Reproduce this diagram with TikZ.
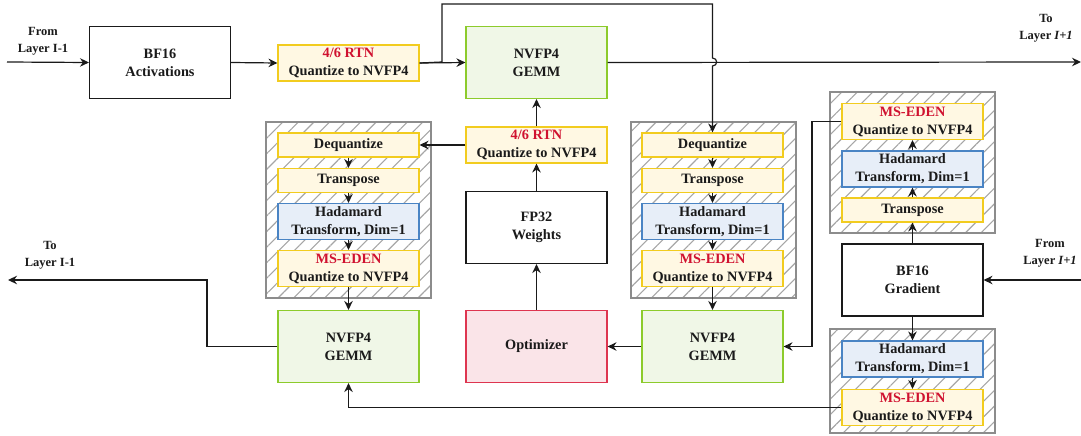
\documentclass[tikz,border=0pt]{standalone}
\usepackage{fontspec}
\setmainfont{Liberation Serif}
\usetikzlibrary{arrows.meta,patterns.meta}

\definecolor{qfill}{HTML}{FFF8E3}
\definecolor{qdraw}{HTML}{F2CC1F}
\definecolor{hfill}{HTML}{E7EEF8}
\definecolor{hdraw}{HTML}{4A84C4}
\definecolor{gfill}{HTML}{F0F7E7}
\definecolor{gdraw}{HTML}{8DCB2C}
\definecolor{ofill}{HTML}{FAE4E8}
\definecolor{odraw}{HTML}{DE3550}
\definecolor{redtxt}{HTML}{D01230}
\definecolor{hatchgray}{HTML}{A6A6A6}
\definecolor{framegray}{HTML}{8C8C8C}
\definecolor{ink}{HTML}{1A1A1A}

\tikzset{
  box/.style={draw=ink, line width=1.1pt, minimum width=141pt, inner sep=0pt,
    align=center, text=ink, font=\fontsize{14.3}{18}\selectfont\bfseries},
  big/.style={box, minimum height=72pt, fill=white},
  gemm/.style={big, fill=gfill, draw=gdraw},
  optim/.style={big, fill=ofill, draw=odraw},
  quant/.style={box, fill=qfill, draw=qdraw, minimum height=36pt},
  slim/.style={box, fill=qfill, draw=qdraw, minimum height=24pt},
  hada/.style={box, fill=hfill, draw=hdraw, minimum height=36pt},
  group/.style={draw=framegray, line width=1.2pt, minimum width=165pt, inner sep=0pt,
    pattern={Lines[angle=45,distance=11pt,line width=1.1pt]}, pattern color=hatchgray},
  lbl/.style={align=center, text=ink, font=\fontsize{12.5}{17}\selectfont\bfseries},
  conn/.style={line width=1.2pt, draw=ink},
  arr/.style={conn, -{Stealth[length=9pt,width=8.5pt,inset=3pt]}},
}
\newcommand{\redword}[1]{{\color{redtxt}#1}}

\begin{document}
\begin{tikzpicture}[x=1pt,y=-1pt]
\useasboundingbox (0,0) rectangle (1081,436);

% hatched group frames
\node[group, minimum height=176pt] (L)  at (348.5,210) {};
\node[group, minimum height=176pt] (M)  at (713.5,210) {};
\node[group, minimum height=141pt] (R1) at (912.5,162.5) {};
\node[group, minimum height=104pt] (R2) at (912.5,381) {};

% forward pass
\node[big]   (act) at (160,62.5)   {BF16\\Activations};
\node[quant] (qa)  at (348.5,63)   {\redword{4/6 RTN}\\Quantize to NVFP4};
\node[gemm]  (gf)  at (536.5,62.5) {NVFP4\\GEMM};
\node[quant] (qw)  at (536.5,145)  {\redword{4/6 RTN}\\Quantize to NVFP4};
\node[big]   (w)   at (536.5,227.5){FP32\\Weights};
\node[optim] (opt) at (536.5,346.5){Optimizer};

% left column: weights for the input gradient
\node[slim]  (dqL) at (348.5,145)   {Dequantize};
\node[slim]  (tpL) at (348.5,180.5) {Transpose};
\node[hada]  (hdL) at (348.5,221.5) {Hadamard\\Transform, Dim=1};
\node[quant] (msL) at (348.5,268.5) {\redword{MS-EDEN}\\Quantize to NVFP4};
\node[gemm]  (gL)  at (348.5,346.5) {NVFP4\\GEMM};

% middle column: activations for the weight gradient
\node[slim]  (dqM) at (712.5,145)   {Dequantize};
\node[slim]  (tpM) at (712.5,180.5) {Transpose};
\node[hada]  (hdM) at (712.5,221.5) {Hadamard\\Transform, Dim=1};
\node[quant] (msM) at (712.5,268.5) {\redword{MS-EDEN}\\Quantize to NVFP4};
\node[gemm]  (gM)  at (712.5,346.5) {NVFP4\\GEMM};

% right column: gradient paths
\node[quant] (msR)  at (912.5,121.5) {\redword{MS-EDEN}\\Quantize to NVFP4};
\node[hada]  (hdR)  at (912.5,169)   {Hadamard\\Transform, Dim=1};
\node[slim]  (tpR)  at (912.5,210)   {Transpose};
\node[big]   (grad) at (912.5,280)   {BF16\\Gradient};
\node[hada]  (hdR2) at (912.5,359)   {Hadamard\\Transform, Dim=1};
\node[quant] (msR2) at (912.5,407.5) {\redword{MS-EDEN}\\Quantize to NVFP4};

% outer labels
\node[lbl] (inA)  at (43,41)    {From\\Layer I-1};
\node[lbl] (outA) at (1046,28)  {To\\Layer \textit{I+1}};
\node[lbl] (outG) at (50,255)   {To\\Layer I-1};
\node[lbl] (inG)  at (1050,253) {From\\Layer \textit{I+1}};

\coordinate (srcA) at (7,62);
\coordinate (dstA) at (1081,62);
\coordinate (dstG) at (8,280);
\coordinate (srcG) at (1081,280);
\coordinate (split) at (442,62);

% forward connectors
\draw[arr] (srcA) -- (act.west);
\draw[arr] (act.east) -- (qa.west);
\draw[arr] (qa.east) -- (gf.west);
\draw[arr] (gf.east) -- (dstA);
\draw[arr] (qa.east) -- (split) -- (442,4) -- (712.5,4) -- (712.5,58)
  .. controls (718,58) and (718,66) .. (712.5,66) -- (dqM.north);
\draw[arr] (qw.north) -- (gf.south);
\draw[arr] (w.north) -- (qw.south);
\draw[arr] (opt.north) -- (w.south);
\draw[arr] (qw.west) -- (dqL.east);

% chains inside the frames
\draw[arr] (dqL.south) -- (tpL.north);
\draw[arr] (tpL.south) -- (hdL.north);
\draw[arr] (hdL.south) -- (msL.north);
\draw[arr] (msL.south) -- (gL.north);
\draw[arr] (dqM.south) -- (tpM.north);
\draw[arr] (tpM.south) -- (hdM.north);
\draw[arr] (hdM.south) -- (msM.north);
\draw[arr] (msM.south) -- (gM.north);
\draw[arr] (gM.west) -- (opt.east);
\draw[arr] (gL.west) -- (207,346.5) -- (207,280) -- (dstG);

% gradient side
\draw[arr] (srcG) -- (grad.east);
\draw[arr] (grad.north) -- (tpR.south);
\draw[arr] (tpR.north) -- (hdR.south);
\draw[arr] (hdR.north) -- (msR.south);
\draw[arr] (msR.west) -- (812,121.5) -- (812,346.5) -- (gM.east);
\draw[arr] (grad.south) -- (hdR2.north);
\draw[arr] (hdR2.south) -- (msR2.north);
\draw[arr] (msR2.west) -- (348.5,407.5) -- (gL.south);
\end{tikzpicture}
\end{document}
